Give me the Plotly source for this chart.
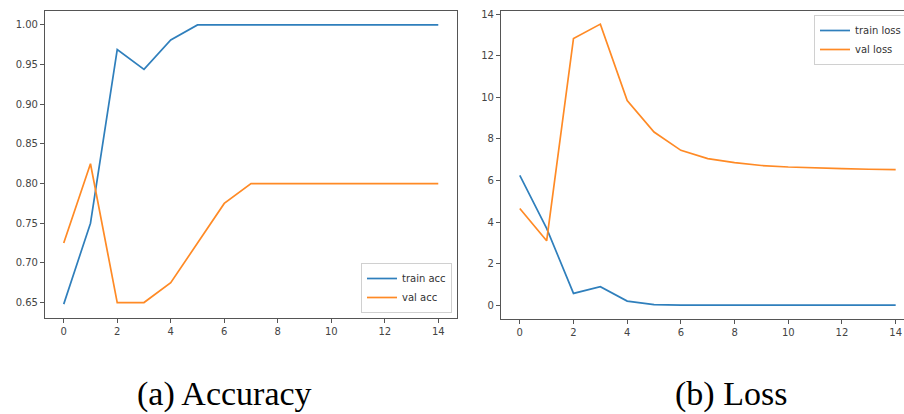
import plotly.graph_objects as go

W, H = 904, 414

epochs = list(range(15))
train_acc = [0.648, 0.75, 0.969, 0.944, 0.981, 1.0, 1.0, 1.0, 1.0, 1.0, 1.0, 1.0, 1.0, 1.0, 1.0]
val_acc = [0.725, 0.825, 0.65, 0.65, 0.675, 0.725, 0.775, 0.80, 0.80, 0.80, 0.80, 0.80, 0.80, 0.80, 0.80]
train_loss = [6.25, 3.7, 0.57, 0.89, 0.2, 0.03, 0.01, 0.01, 0.01, 0.01, 0.01, 0.01, 0.01, 0.01, 0.01]
val_loss = [4.65, 3.1, 12.83, 13.52, 9.84, 8.33, 7.45, 7.05, 6.86, 6.72, 6.65, 6.6, 6.57, 6.54, 6.52]

acc_yticks = [0.65, 0.70, 0.75, 0.80, 0.85, 0.90, 0.95, 1.00]
acc_yticklabels = ["0.65", "0.70", "0.75", "0.80", "0.85", "0.90", "0.95", "1.00"]
loss_yticks = [0, 2, 4, 6, 8, 10, 12, 14]
xticks = [0, 2, 4, 6, 8, 10, 12, 14]

captions = ["(a) Accuracy", "(b) Loss"]

BLUE = "#2f7fbc"
ORANGE = "#ff8a25"
FRAME = "#555555"
TICKC = "#444444"

fig = go.Figure()
fig.add_trace(go.Scatter(x=epochs, y=train_acc, mode="lines", name="train acc",
                         line=dict(color=BLUE, width=1.7), xaxis="x", yaxis="y", legend="legend"))
fig.add_trace(go.Scatter(x=epochs, y=val_acc, mode="lines", name="val acc",
                         line=dict(color=ORANGE, width=1.7), xaxis="x", yaxis="y", legend="legend"))
fig.add_trace(go.Scatter(x=epochs, y=train_loss, mode="lines", name="train loss",
                         line=dict(color=BLUE, width=1.7), xaxis="x2", yaxis="y2", legend="legend2"))
fig.add_trace(go.Scatter(x=epochs, y=val_loss, mode="lines", name="val loss",
                         line=dict(color=ORANGE, width=1.7), xaxis="x2", yaxis="y2", legend="legend2"))

tickfont = dict(family="DejaVu Sans", size=10, color=TICKC)
common_ax = dict(showgrid=False, zeroline=False, showline=True, linecolor=FRAME, linewidth=1.2,
                 ticks="outside", ticklen=4, tickcolor=FRAME, tickwidth=1, tickfont=tickfont,
                 ticklabeloverflow="allow")

fig.update_layout(
    width=W, height=H,
    margin=dict(l=0, r=0, t=0, b=0, autoexpand=False),
    paper_bgcolor="white", plot_bgcolor="white",
    xaxis=dict(domain=[45 / W, 457 / W], range=[-0.7, 14.7], tickvals=xticks, mirror=True,
               anchor="y", **common_ax),
    yaxis=dict(domain=[1 - 318 / H, 1 - 11 / H], range=[0.6305, 1.0176], tickvals=acc_yticks,
               ticktext=acc_yticklabels, mirror=True, anchor="x", **common_ax),
    xaxis2=dict(domain=[501 / W, 1.0], range=[-0.7, 14.31], tickvals=xticks, mirror=True,
                anchor="y2", **common_ax),
    yaxis2=dict(domain=[1 - 319 / H, 1 - 11 / H], range=[-0.66, 14.15], tickvals=loss_yticks,
                mirror=False, anchor="x2", **common_ax),
    legend=dict(x=452 / W, xanchor="right", y=1 - 313 / H, yanchor="bottom",
                bgcolor="white", bordercolor="#d0d0d0", borderwidth=1,
                font=dict(family="DejaVu Sans", size=10, color="#333333"),
                itemwidth=30, tracegroupgap=0),
    legend2=dict(x=814 / W, xanchor="left", y=1 - 15 / H, yanchor="top",
                 bgcolor="white", bordercolor="#d0d0d0", borderwidth=1,
                 font=dict(family="DejaVu Sans", size=10, color="#333333"),
                 itemwidth=30, tracegroupgap=0),
    showlegend=True,
)

fig.add_annotation(x=224 / W, y=1 - 394 / H, xref="paper", yref="paper", text=captions[0],
                   showarrow=False, xanchor="center", yanchor="middle",
                   font=dict(family="Liberation Serif", size=34, color="black"))
fig.add_annotation(x=731 / W, y=1 - 394 / H, xref="paper", yref="paper", text=captions[1],
                   showarrow=False, xanchor="center", yanchor="middle",
                   font=dict(family="Liberation Serif", size=34, color="black"))

fig.write_html("out.html", config={"displayModeBar": False},
               post_script="document.body.style.margin='0';document.body.style.overflow='hidden';")
